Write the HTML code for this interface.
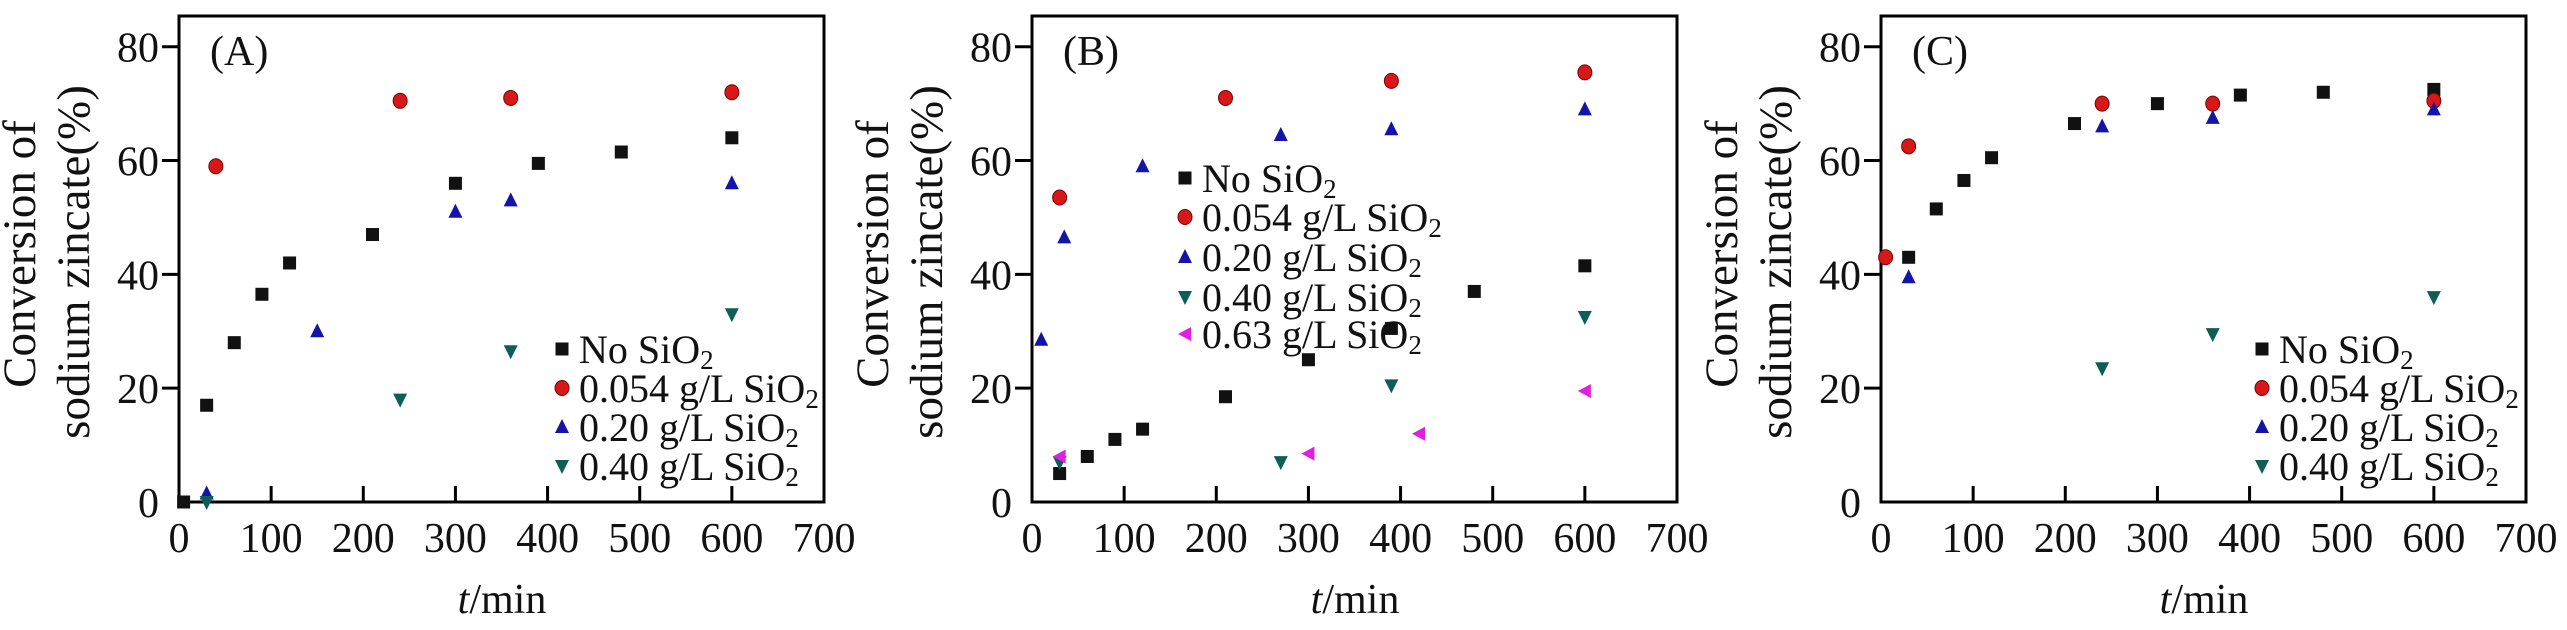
<!DOCTYPE html>
<html><head><meta charset="utf-8">
<style>
html,body{margin:0;padding:0;background:#fff;}
svg{display:block;}
text{font-family:"Liberation Serif","DejaVu Serif",serif;fill:#111;}
</style></head>
<body>
<svg id="chart" width="2567" height="630" viewBox="0 0 2567 630" xmlns="http://www.w3.org/2000/svg"></svg>
<script>
// ---- data ----
const xTicks = [0,100,200,300,400,500,600,700];
const yTicks = [0,20,40,60,80];
const seriesNames = ["No SiO2","0.054 g/L SiO2","0.20 g/L SiO2","0.40 g/L SiO2","0.63 g/L SiO2"];
const panelLabels = ["(A)","(B)","(C)"];

const aNoX = [5,30,60,90,120,210,300,390,480,600];
const aNoY = [0,17,28,36.5,42,47,56,59.5,61.5,64];
const a054X = [40,240,360,600];
const a054Y = [59,70.5,71,72];
const a020X = [30,150,300,360,600];
const a020Y = [1.5,30,51,53,56];
const a040X = [30,240,360,600];
const a040Y = [0,18,26.5,33];

const bNoX = [30,60,90,120,210,300,390,480,600];
const bNoY = [5,8,11,12.8,18.5,25,30.5,37,41.5];
const b054X = [30,210,390,600];
const b054Y = [53.5,71,74,75.5];
const b020X = [10,35,120,270,390,600];
const b020Y = [28.5,46.5,59,64.5,65.5,69];
const b040X = [30,270,390,600];
const b040Y = [7,7,20.5,32.5];
const b063X = [30,300,420,600];
const b063Y = [8,8.5,12,19.5];

const cNoX = [30,60,90,120,210,300,390,480,600];
const cNoY = [43,51.5,56.5,60.5,66.5,70,71.5,72,72.5];
const c054X = [5,30,240,360,600];
const c054Y = [43,62.5,70,70,70.5];
const c020X = [30,240,360,600];
const c020Y = [39.5,66,67.5,69];
const c040X = [240,360,600];
const c040Y = [23.5,29.5,36];

const NS = "http://www.w3.org/2000/svg";
const svg = document.getElementById('chart');
function mk(tag, attrs, parent){
  const e = document.createElementNS(NS, tag);
  for (const k in attrs) e.setAttribute(k, attrs[k]);
  (parent||svg).appendChild(e);
  return e;
}
const styles = [
  {shape:'square', fill:'#111', stroke:'#000'},
  {shape:'circle', fill:'#d81818', stroke:'#7a0000'},
  {shape:'up', fill:'#1414a8', stroke:'#000060'},
  {shape:'down', fill:'#0d5f55', stroke:'#053530'},
  {shape:'left', fill:'#e020e0', stroke:'#a000a0'}
];
function marker(g, cx, cy, si){
  const s = styles[si]; let e;
  if (s.shape==='square') e = mk('rect',{x:cx-6.5,y:cy-6.5,width:13,height:13,fill:s.fill},g);
  else if (s.shape==='circle') e = mk('ellipse',{cx:cx,cy:cy,rx:7,ry:7.5,fill:s.fill,stroke:s.stroke,'stroke-width':1},g);
  else if (s.shape==='up') e = mk('polygon',{points:`${cx},${cy-8} ${cx-7},${cy+6} ${cx+7},${cy+6}`,fill:s.fill},g);
  else if (s.shape==='down') e = mk('polygon',{points:`${cx-7},${cy-6} ${cx+7},${cy-6} ${cx},${cy+8}`,fill:s.fill},g);
  else e = mk('polygon',{points:`${cx-7},${cy} ${cx+6},${cy-7} ${cx+6},${cy+7}`,fill:s.fill},g);
  return e;
}
function seriesText(g, x, y, name){
  const t = mk('text',{x:x,y:y,'font-size':40},g);
  const base = name.slice(0,-1);
  t.appendChild(document.createTextNode(base));
  const sub = mk('tspan',{'font-size':27,dy:6},t);
  sub.textContent = '2';
  return t;
}

const panels = [
  {left:179, label:panelLabels[0], series:[[aNoX,aNoY],[a054X,a054Y],[a020X,a020Y],[a040X,a040Y]], legX:562, legY:[349,388,427,466]},
  {left:1032, label:panelLabels[1], series:[[bNoX,bNoY],[b054X,b054Y],[b020X,b020Y],[b040X,b040Y],[b063X,b063Y]], legX:1185, legY:[178,217,257,297,334]},
  {left:1881, label:panelLabels[2], series:[[cNoX,cNoY],[c054X,c054Y],[c020X,c020Y],[c040X,c040Y]], legX:2262, legY:[349,388,427,466]}
];
const W = 645, TOP = 16, BOT = 502, XMAX = 700, YMAX = 85.4;
panels.forEach((p, pi) => {
  const g = mk('g',{});
  
  
  const xs = v => p.left + v / XMAX * W;
  const ys = v => BOT - v / YMAX * (BOT - TOP);
  const box = mk('rect',{x:p.left,y:TOP,width:W,height:BOT-TOP,fill:'none',stroke:'#000','stroke-width':3},g);
  
  
  xTicks.forEach(v => {
    if (v>0 && v<XMAX) mk('line',{x1:xs(v),x2:xs(v),y1:BOT,y2:BOT-16,stroke:'#000','stroke-width':3},g);
    const t = mk('text',{x:xs(v),y:552,'text-anchor':'middle','font-size':42},g);
    t.textContent = v;
    
    
  });
  yTicks.forEach(v => {
    if (v>0) mk('line',{x1:p.left-17,x2:p.left,y1:ys(v),y2:ys(v),stroke:'#000','stroke-width':3},g);
    const t = mk('text',{x:p.left-20,y:ys(v)+15,'text-anchor':'end','font-size':42},g);
    t.textContent = v;
    
    
  });
  const pl = mk('text',{x:p.left+31,y:65,'font-size':42},g);
  pl.textContent = p.label;
  
  
  const cx = p.left - 144;
  const y1 = mk('text',{x:0,y:0,'font-size':47,'text-anchor':'middle',transform:`translate(${cx},254) rotate(-90)`},g);
  y1.textContent = 'Conversion of';
  
  
  const y2 = mk('text',{x:0,y:0,'font-size':47,'text-anchor':'middle',transform:`translate(${cx+54},262) rotate(-90)`},g);
  y2.textContent = 'sodium zincate(%)';
  
  
  const xl = mk('text',{x:p.left+323,y:613,'font-size':42,'text-anchor':'middle'},g);
  const it = mk('tspan',{'font-style':'italic'},xl); it.textContent='t';
  xl.appendChild(document.createTextNode('/min'));
  
  
  p.series.forEach((s, si) => {
    const sg = mk('g',{},g);
    
    
    s[0].forEach((xv, i) => {
      const m = marker(sg, xs(xv), ys(s[1][i]), si);
      
      
    });
    const lg = mk('g',{},g);
    
    
    marker(lg, p.legX, p.legY[si], si);
    seriesText(lg, p.legX + 17, p.legY[si] + 14, seriesNames[si]);
  });
});
</script>
</body></html>
